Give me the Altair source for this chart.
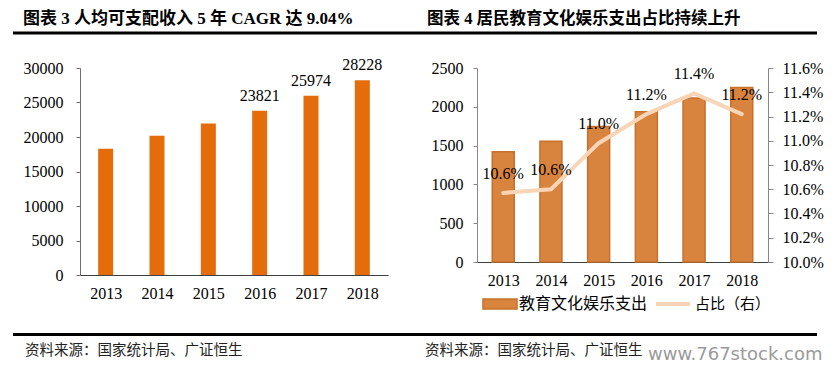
import altair as alt
import pandas as pd

years = ["2013", "2014", "2015", "2016", "2017", "2018"]
income = [18311, 20167, 21966, 23821, 25974, 28228]
income_labels = ["", "", "", "23821", "25974", "28228"]
edu = [1420, 1555, 1745, 1935, 2115, 2250]
share = [10.57, 10.60, 10.98, 11.22, 11.39, 11.22]
share_labels = ["10.6%", "10.6%", "11.0%", "11.2%", "11.4%", "11.2%"]

income_ticks = [0, 5000, 10000, 15000, 20000, 25000, 30000]
edu_ticks = [0, 500, 1000, 1500, 2000, 2500]
share_ticks = [10.0, 10.2, 10.4, 10.6, 10.8, 11.0, 11.2, 11.4, 11.6]

title_left = "图表 3 人均可支配收入 5 年 CAGR 达 9.04%"
title_right = "图表 4 居民教育文化娱乐支出占比持续上升"
source_text = "资料来源：国家统计局、广证恒生"
legend_bar = "教育文化娱乐支出"
legend_line = "占比（右）"
watermark = "www.767stock.com"

df_left = pd.DataFrame({"year": years, "income": income, "label": income_labels})
df_right = pd.DataFrame({"year": years, "edu": edu, "share": share, "label": share_labels})

SERIF = "Liberation Serif"
CJK = "Liberation Serif, Noto Sans CJK SC"
one = alt.Data(values=[{"k": 0}])


def txt(text, x, y, size, weight="normal", font=CJK, color="#000000", align="left"):
    return alt.Chart(one).mark_text(
        text=text, align=align, baseline="middle", fontSize=size,
        fontWeight=weight, font=font, color=color
    ).encode(x=alt.value(x), y=alt.value(y))


def hrule(x1, x2, y, width=3, color="#000000"):
    return alt.Chart(one).mark_rule(color=color, strokeWidth=width).encode(
        x=alt.value(x1), x2=alt.value(x2), y=alt.value(y)
    )


AX = dict(labelFont=SERIF, labelFontSize=16, labelColor="#000000", labelOverlap=False,
          labelFlush=False, grid=False, title=None)

# ---------------- left panel ----------------
LW, LH = 308, 207
xl_scale = alt.Scale(type="point", padding=0.5)
xl_axis = alt.Axis(labelAngle=0, ticks=False, labelPadding=10, domainColor="#404040", **AX)
yl_scale = alt.Scale(domain=[0, 30000], nice=False)
yl_axis = alt.Axis(values=income_ticks, format="d", tickSize=4, labelPadding=13,
                   domainColor="#6d6d6d", tickColor="#6d6d6d", **AX)

anchor = alt.Chart(one).mark_rect(color="white").encode(
    x=alt.value(-80), x2=alt.value(-76), y=alt.value(-68), y2=alt.value(-64)
)
bars_l = alt.Chart(df_left).mark_bar(size=15, color="#E46C0A").encode(
    x=alt.X("year:O", scale=xl_scale, axis=xl_axis),
    y=alt.Y("income:Q", scale=yl_scale, axis=yl_axis))
lab_l = alt.Chart(df_left).mark_text(
    baseline="alphabetic", dy=-10, font=SERIF, fontSize=16, color="#000000"
).encode(x=alt.X("year:O", scale=xl_scale, axis=xl_axis),
         y=alt.Y("income:Q", scale=yl_scale, axis=yl_axis), text="label:N")

left = alt.layer(
    anchor, bars_l, lab_l,
    hrule(-67, 737, -35, 3),
    hrule(-67, 737, 266.5, 3),
    txt(title_left, -57, -49, 17, "bold"),
    txt(source_text, -55, 283, 14.5, font="Noto Sans CJK SC", color="#222222"),
).properties(width=LW, height=LH)

# ---------------- right panel ----------------
RW, RH = 291, 194
xr_scale = alt.Scale(type="point", padding=0.55)
xr_axis = alt.Axis(labelAngle=0, ticks=False, labelPadding=10, domainColor="#404040", **AX)
bars_r = alt.Chart(df_right).mark_bar(
    size=22, color="#D8843F", stroke="#C6712C", strokeWidth=1.5
).encode(
    x=alt.X("year:O", scale=xr_scale, axis=xr_axis),
    y=alt.Y("edu:Q", scale=alt.Scale(domain=[0, 2500], nice=False),
            axis=alt.Axis(values=edu_ticks, format="d", tickSize=4, labelPadding=10,
                          domainColor="#868686", tickColor="#868686", **AX))
)
yr_scale = alt.Scale(domain=[10.0, 11.6], nice=False, zero=False)
yr_axis = alt.Axis(orient="right", values=share_ticks,
                   labelExpr="format(datum.value, '.1f') + '%'",
                   tickSize=5, labelPadding=9, domainColor="#868686",
                   tickColor="#868686", **AX)
line_r = alt.Chart(df_right).mark_line(
    color="#F9D5B7", strokeWidth=4, strokeCap="round"
).encode(x=alt.X("year:O", scale=xr_scale, axis=xr_axis),
         y=alt.Y("share:Q", scale=yr_scale, axis=yr_axis))
lab_r = alt.Chart(df_right).mark_text(
    baseline="alphabetic", dy=-14, font=SERIF, fontSize=16, color="#000000"
).encode(x=alt.X("year:O", scale=xr_scale, axis=xr_axis),
         y=alt.Y("share:Q", scale=yr_scale, axis=yr_axis), text="label:N")

legend = alt.layer(
    alt.Chart(one).mark_rect(color="#D8843F", stroke="#C6712C", strokeWidth=1.5).encode(
        x=alt.value(6), x2=alt.value(40), y=alt.value(231), y2=alt.value(241)),
    txt(legend_bar, 42, 236, 16, font="Noto Sans CJK SC"),
    alt.Chart(one).mark_rule(color="#F9D5B7", strokeWidth=4).encode(
        x=alt.value(179), x2=alt.value(213), y=alt.value(236)),
    txt(legend_line, 218, 236, 15, font="Noto Sans CJK SC"),
)

right = alt.layer(
    bars_r,
    alt.layer(line_r, lab_r),
    legend,
    txt(title_right, -50, -49, 16.5, "bold"),
    txt(source_text, -52, 283, 14.5, font="Noto Sans CJK SC", color="#222222"),
    txt(watermark, 171, 287, 18, font="DejaVu Sans", color="#9a9a9a"),
).resolve_scale(y="independent").properties(width=RW, height=RH)

chart = alt.hconcat(left, right, spacing=89, bounds="flush").properties(
    padding=0, background="white"
).configure_view(stroke=None)

chart.save("out.html", embed_options={"renderer": "svg", "actions": False})
